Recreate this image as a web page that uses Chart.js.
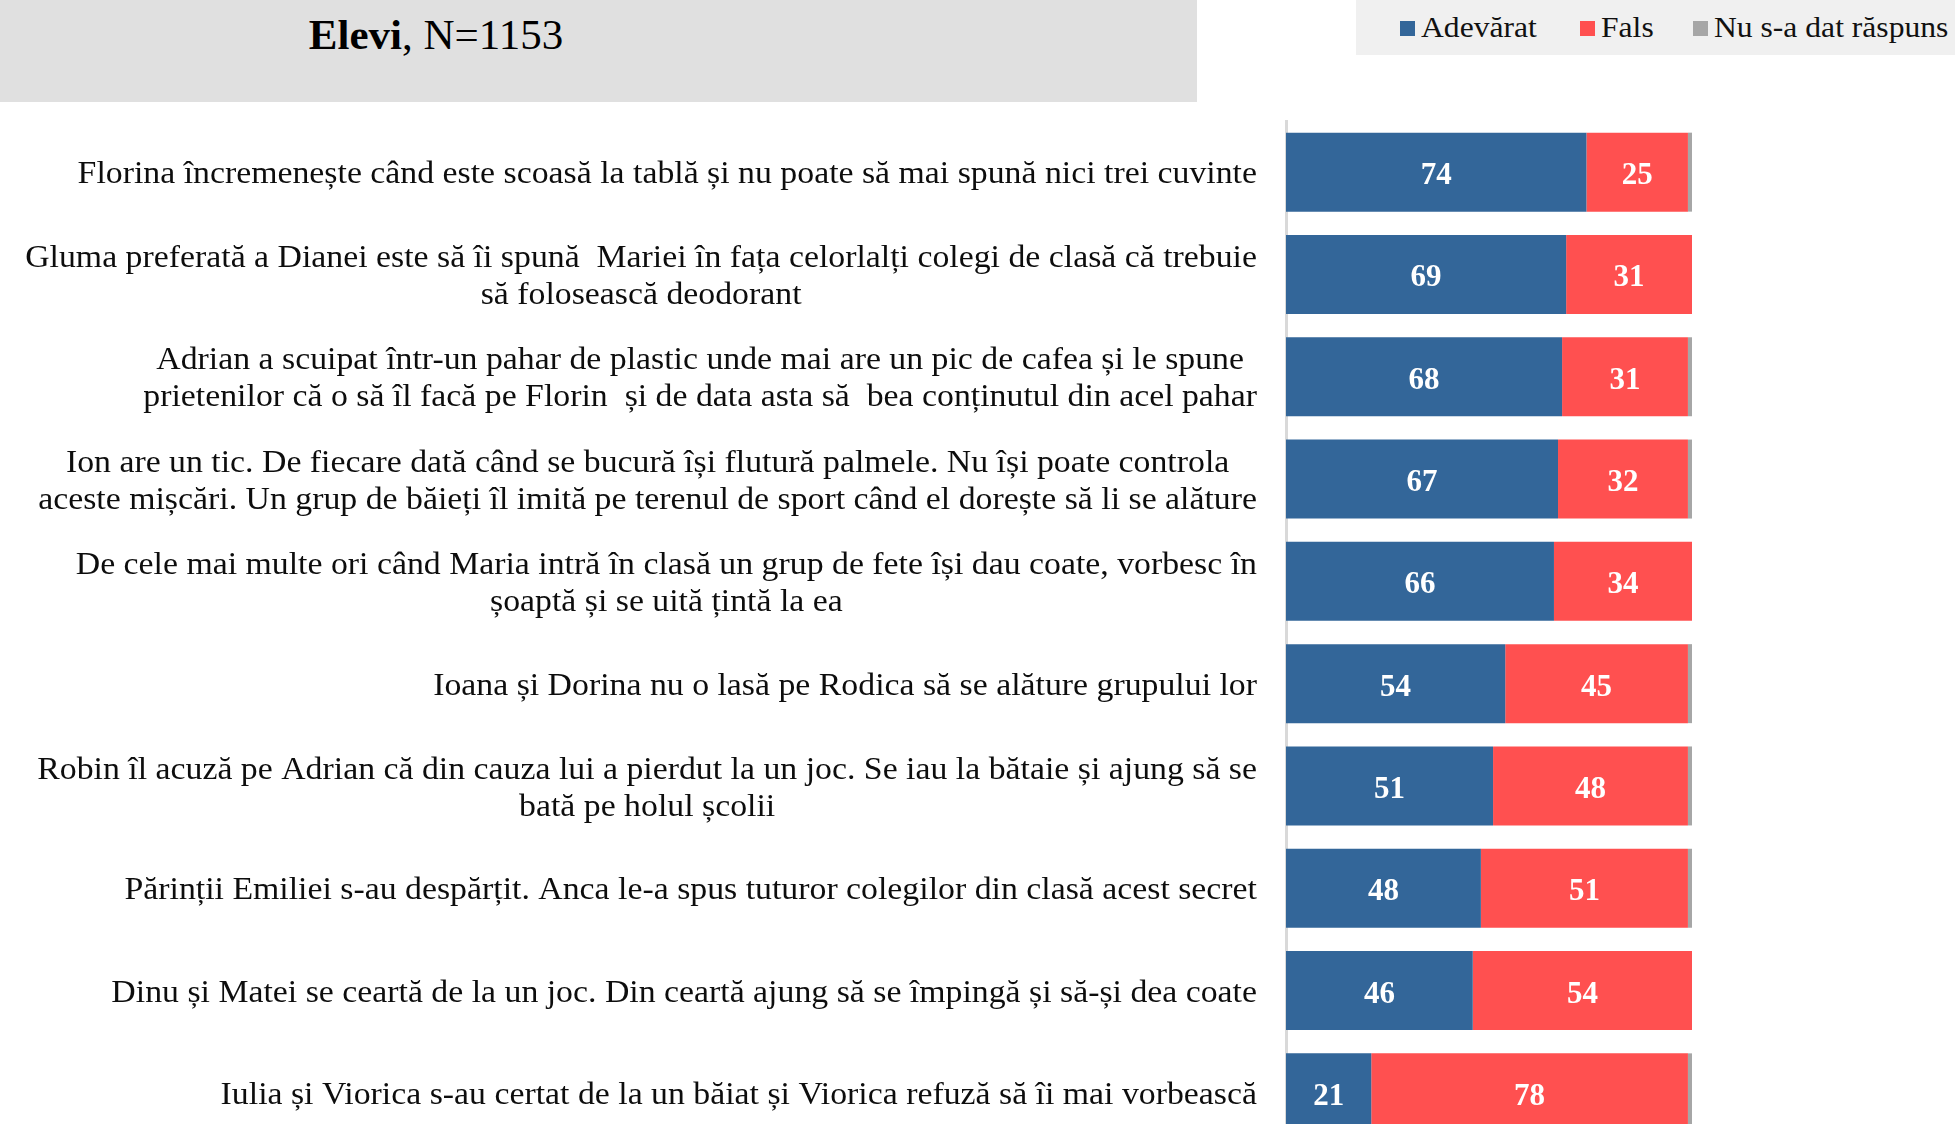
<!DOCTYPE html>
<html>
<head>
<meta charset="utf-8">
<script src="https://cdn.jsdelivr.net/npm/chart.js@4.4.1/dist/chart.umd.min.js"></script>
<style>
html,body{margin:0;padding:0;width:1955px;height:1124px;overflow:hidden;background:#fff;font-family:"Liberation Serif",serif;}
#titlebox{position:absolute;left:0;top:0;width:1197px;height:102px;background:#e0e0e0;}
#title{position:absolute;left:0;top:10px;width:872px;text-align:center;font-size:43px;color:#000;}
#legendbox{position:absolute;left:1356px;top:0;width:599px;height:55px;background:#f0f0f0;}
.li{position:absolute;top:11px;font-size:29px;color:#111;white-space:nowrap;line-height:32px;}
.sw{display:inline-block;width:15px;height:15px;margin-right:6px;vertical-align:1px;}
.lt{display:inline-block;transform:scaleX(1.09);transform-origin:left center;}
#wrap{position:absolute;left:0;top:0;width:1955px;height:1150px;}
</style>
</head>
<body>
<div id="titlebox"><div id="title"><b>Elevi</b>, N=1153</div></div>
<div id="legendbox"></div>
<div id="wrap"><canvas id="c" width="1955" height="1150"></canvas></div>
<script>
const categories = [
  ["Florina încremenește când este scoasă la tablă și nu poate să mai spună nici trei cuvinte"],
  ["Gluma preferată a Dianei este să îi spună  Mariei în fața celorlalți colegi de clasă că trebuie", "să folosească deodorant"],
  ["Adrian a scuipat într-un pahar de plastic unde mai are un pic de cafea și le spune", "prietenilor că o să îl facă pe Florin  și de data asta să  bea conținutul din acel pahar"],
  ["Ion are un tic. De fiecare dată când se bucură își flutură palmele. Nu își poate controla", "aceste mișcări. Un grup de băieți îl imită pe terenul de sport când el dorește să li se alăture"],
  ["De cele mai multe ori când Maria intră în clasă un grup de fete își dau coate, vorbesc în", "șoaptă și se uită țintă la ea"],
  ["Ioana și Dorina nu o lasă pe Rodica să se alăture grupului lor"],
  ["Robin îl acuză pe Adrian că din cauza lui a pierdut la un joc. Se iau la bătaie și ajung să se", "bată pe holul școlii"],
  ["Părinții Emiliei s-au despărțit. Anca le-a spus tuturor colegilor din clasă acest secret"],
  ["Dinu și Matei se ceartă de la un joc. Din ceartă ajung să se împingă și să-și dea coate"],
  ["Iulia și Viorica s-au certat de la un băiat și Viorica refuză să îi mai vorbească"]
];
const seriesNames = ["Adevărat", "Fals", "Nu s-a dat răspuns"];
const adevarat = [74, 69, 68, 67, 66, 54, 51, 48, 46, 21];
const fals = [25, 31, 31, 32, 34, 45, 48, 51, 54, 78];
const nuRaspuns = [1, 0, 1, 1, 0, 1, 1, 1, 0, 1];
const colors = ["#336699", "#ff5050", "#a6a6a6"];

// HTML legend
const legendPos = [1400, 1580, 1693];
const lb = document.getElementById('legendbox');
seriesNames.forEach((n, i) => {
  const d = document.createElement('div');
  d.className = 'li';
  d.style.left = (legendPos[i] - 1356) + 'px';
  d.innerHTML = '<span class="sw" style="background:' + colors[i] + '"></span><span class="lt">' + n + '</span>';
  lb.appendChild(d);
});

const LABEL_FONT = 31;
const LABEL_STRETCH = 1.09;
const LABEL_RIGHT = 1257;
const LINE_H = 37;

const labelPlugin = {
  id: 'catLabels',
  afterDraw(chart) {
    const ctx = chart.ctx;
    const ys = chart.scales.y;
    ctx.save();
    ctx.font = LABEL_FONT + 'px "Liberation Serif", serif';
    ctx.fillStyle = '#0d0d0d';
    ctx.textBaseline = 'middle';
    ctx.textAlign = 'center';
    chart.data.labels.forEach((lines, i) => {
      const yc = ys.getPixelForValue(i) + 3;
      const widths = lines.map(l => ctx.measureText(l).width * LABEL_STRETCH);
      const maxW = Math.max(...widths);
      const cx = LABEL_RIGHT - maxW / 2;
      lines.forEach((l, k) => {
        const y = yc + (k - (lines.length - 1) / 2) * LINE_H;
        ctx.save();
        ctx.translate(cx, y);
        ctx.scale(LABEL_STRETCH, 1);
        ctx.fillText(l, 0, 0);
        ctx.restore();
      });
    });
    ctx.restore();
  }
};

const valuePlugin = {
  id: 'valLabels',
  afterDatasetsDraw(chart) {
    const ctx = chart.ctx;
    ctx.save();
    ctx.font = 'bold 31px "Liberation Serif", serif';
    ctx.fillStyle = '#fff';
    ctx.textAlign = 'center';
    ctx.textBaseline = 'middle';
    [0, 1].forEach(di => {
      const meta = chart.getDatasetMeta(di);
      const data = chart.data.datasets[di].data;
      meta.data.forEach((bar, i) => {
        if (data[i] < 5) return;
        const x = (bar.x + bar.base) / 2;
        ctx.fillText(String(data[i]), x, bar.y + 4);
      });
    });
    ctx.restore();
  }
};

new Chart(document.getElementById('c'), {
  type: 'bar',
  data: {
    labels: categories,
    datasets: [
      { label: seriesNames[0], data: adevarat, backgroundColor: colors[0] },
      { label: seriesNames[1], data: fals, backgroundColor: colors[1] },
      { label: seriesNames[2], data: nuRaspuns, backgroundColor: colors[2] }
    ]
  },
  options: {
    indexAxis: 'y',
    responsive: false,
    animation: false,
    layout: { padding: { top: 121, bottom: 6, right: 263, left: 0 } },
    datasets: { bar: { barPercentage: 0.772, categoryPercentage: 1.0, borderWidth: 0 } },
    plugins: { legend: { display: false }, tooltip: { enabled: false }, title: { display: false } },
    scales: {
      x: { stacked: true, min: 0, max: 100, display: false },
      y: {
        stacked: true,
        grid: { display: false, drawTicks: false },
        border: { display: true, color: '#d9d9d9', width: 3 },
        ticks: { display: false },
        afterFit(scale) { scale.width = 1286; }
      }
    }
  },
  plugins: [labelPlugin, valuePlugin]
});
</script>
</body>
</html>
